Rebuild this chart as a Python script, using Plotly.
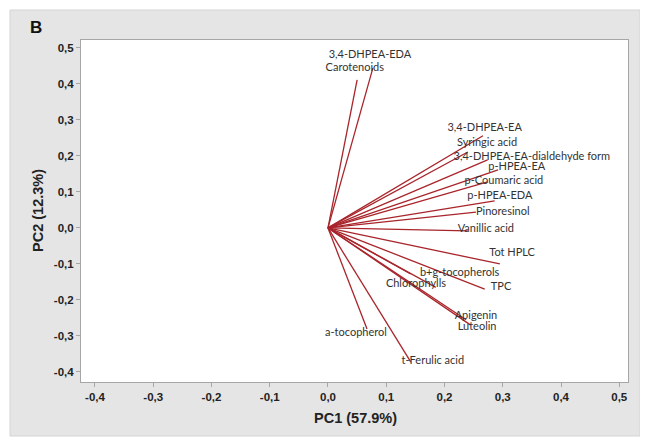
import plotly.graph_objects as go

# Loadings (PC1, PC2)
variables = ["3,4-DHPEA-EDA", "Carotenoids", "3,4-DHPEA-EA", "Syringic acid",
             "3,4-DHPEA-EA-dialdehyde form", "p-HPEA-EA", "p-Coumaric acid",
             "p-HPEA-EDA", "Pinoresinol", "Vanillic acid", "Tot HPLC",
             "b+g-tocopherols", "Chlorophylls", "TPC", "Apigenin", "Luteolin",
             "a-tocopherol", "t-Ferulic acid"]
pc1 = [0.077, 0.050, 0.266, 0.240, 0.274, 0.292, 0.274, 0.286, 0.254, 0.240,
       0.295, 0.142, 0.185, 0.269, 0.237, 0.245, 0.067, 0.142]
pc2 = [0.444, 0.411, 0.256, 0.211, 0.189, 0.161, 0.128, 0.075, 0.044, -0.008,
       -0.100, -0.128, -0.165, -0.170, -0.255, -0.270, -0.281, -0.372]

# label offsets from arrow tips (layout only)
label_dx = [-0.005, -0.004, 0.003, 0.033, 0.076, 0.032, 0.028, 0.009, 0.046, 0.031,
            0.021, 0.084, -0.034, 0.028, 0.017, 0.011, -0.019, 0.038]
label_dy = [0.037, 0.033, 0.022, 0.025, 0.008, 0.008, 0.003, 0.014, 0.000, 0.005,
            0.031, 0.003, 0.009, 0.006, 0.011, -0.005, -0.011, 0.003]

tick_vals_x = [-0.4, -0.3, -0.2, -0.1, 0.0, 0.1, 0.2, 0.3, 0.4, 0.5]
tick_text_x = ["-0,4", "-0,3", "-0,2", "-0,1", "0,0", "0,1", "0,2", "0,3", "0,4", "0,5"]
tick_vals_y = [-0.4, -0.3, -0.2, -0.1, 0.0, 0.1, 0.2, 0.3, 0.4, 0.5]
tick_text_y = ["-0,4", "-0,3", "-0,2", "-0,1", "0,0", "0,1", "0,2", "0,3", "0,4", "0,5"]

line_x, line_y = [], []
for a, b in zip(pc1, pc2):
    line_x += [0, a, None]
    line_y += [0, b, None]

fig = go.Figure()
fig.add_trace(go.Scatter(x=line_x, y=line_y, mode="lines",
                         line=dict(color="#a8252b", width=1.3),
                         hoverinfo="skip", showlegend=False))
fig.add_trace(go.Scatter(x=[a + d for a, d in zip(pc1, label_dx)],
                         y=[b + d for b, d in zip(pc2, label_dy)],
                         mode="text", text=variables,
                         textfont=dict(family="Lato", size=11, color="#333333"),
                         showlegend=False, hoverinfo="skip"))

OFF = 8  # page body margin
W, H = 648 - OFF, 437 - OFF
ml, mr, mt, mb = 81 - OFF, 20, 40 - OFF, 55
pw, ph = W - ml - mr, H - mt - mb

def px2paper_x(px):
    return (px - OFF - ml) / pw

def px2paper_y(py):
    return (H - mb - (py - OFF)) / ph

axis_common = dict(showgrid=False, zeroline=False, showline=True, mirror=True,
                   linecolor="#a6a6a6", linewidth=1, ticks="outside", ticklen=4,
                   tickcolor="#a6a6a6",
                   tickfont=dict(family="Liberation Sans", size=11.5, color="#222222", weight="bold"))

fig.update_layout(
    width=W, height=H,
    margin=dict(l=ml, r=mr, t=mt, b=mb),
    paper_bgcolor="white", plot_bgcolor="white",
    xaxis=dict(range=[-0.424, 0.515], tickvals=tick_vals_x, ticktext=tick_text_x, **axis_common),
    yaxis=dict(range=[-0.428, 0.522], tickvals=tick_vals_y, ticktext=tick_text_y, **axis_common),
    shapes=[
        dict(type="rect", xref="paper", yref="paper", layer="below",
             x0=px2paper_x(10), x1=px2paper_x(640), y0=px2paper_y(436), y1=px2paper_y(10),
             fillcolor="#e5e5e5", line=dict(color="#d4d4d4", width=1)),
        dict(type="rect", xref="paper", yref="paper", layer="below",
             x0=0, x1=1, y0=0, y1=1, fillcolor="white", line=dict(width=0)),
    ],
    annotations=[
        dict(text="B", x=px2paper_x(36), y=px2paper_y(28), xref="paper", yref="paper",
             xanchor="center", yanchor="middle", showarrow=False,
             font=dict(family="Liberation Sans", size=17, color="#111111", weight="bold")),
        dict(text="PC1 (57.9%)", x=px2paper_x(355), y=px2paper_y(418), xref="paper", yref="paper",
             xanchor="center", yanchor="middle", showarrow=False,
             font=dict(family="Liberation Sans", size=14.5, color="#222222", weight="bold")),
        dict(text="PC2 (12.3%)", x=px2paper_x(38), y=px2paper_y(211), xref="paper", yref="paper",
             xanchor="center", yanchor="middle", textangle=-90, showarrow=False,
             font=dict(family="Liberation Sans", size=14.5, color="#222222", weight="bold")),
    ],
)

fig.write_html("out.html")
